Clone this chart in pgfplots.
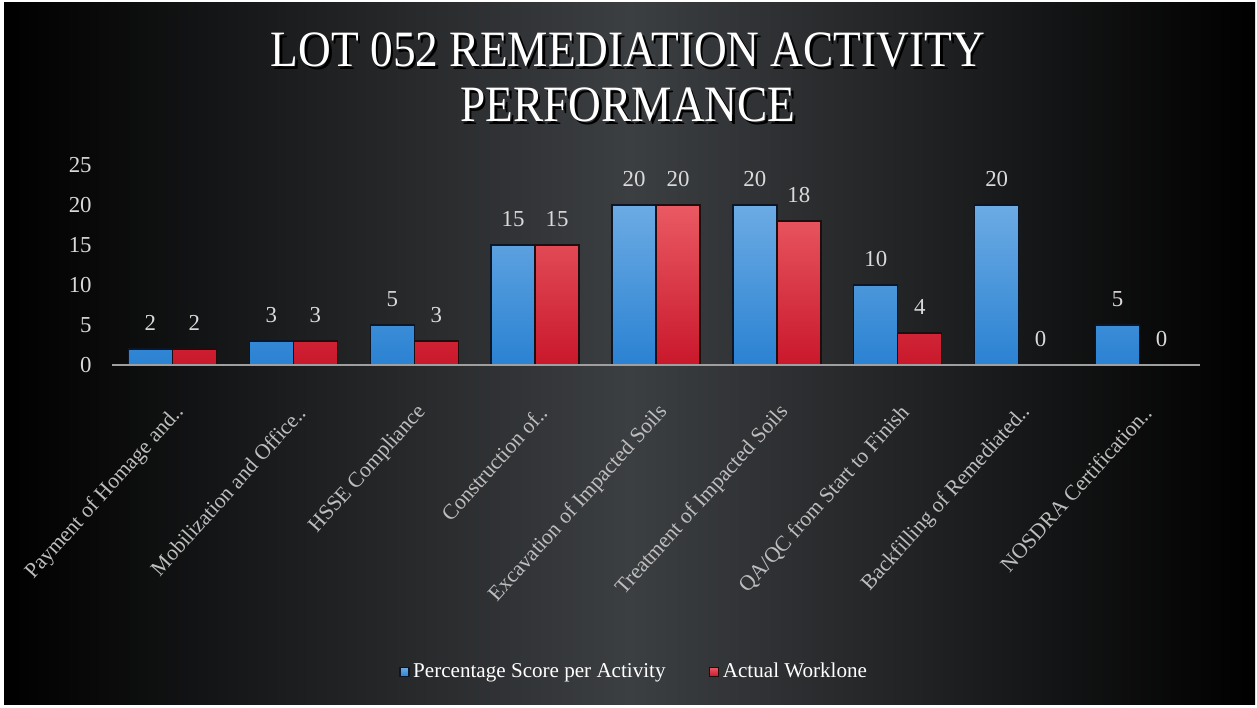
\documentclass[border=0pt]{standalone}
\usepackage{fontspec}
\setmainfont{Liberation Serif}
\newfontfamily\titlefont[FakeStretch=0.89]{Liberation Serif}
\usepackage{pgfplots}
\pgfplotsset{compat=1.18}
\definecolor{bgmid}{HTML}{3C3F42}
\definecolor{bluetop}{HTML}{6CABE4}
\definecolor{bluebot}{HTML}{2A82D2}
\definecolor{redtop}{HTML}{EA5A63}
\definecolor{redbot}{HTML}{C9182B}
\definecolor{ticktext}{HTML}{DADADA}
\definecolor{cattext}{HTML}{BEBEBE}
\begin{document}
\begin{tikzpicture}[x=0.2mm,y=0.2mm]
\useasboundingbox (0,0) rectangle (1257,708);
\fill[white] (0,0) rectangle (1257,708);
\shade[left color=black, right color=black, middle color=bgmid] (4,3) rectangle (1255,705);
\node[anchor=base, font=\titlefont\fontsize{29}{34}\selectfont, text=black] at (630.5,638.5) {LOT 052 REMEDIATION ACTIVITY};
\node[anchor=base, font=\titlefont\fontsize{29}{34}\selectfont, text=white] at (628,641) {LOT 052 REMEDIATION ACTIVITY};
\node[anchor=base, font=\titlefont\fontsize{29}{34}\selectfont, text=black] at (630.5,583.5) {PERFORMANCE};
\node[anchor=base, font=\titlefont\fontsize{29}{34}\selectfont, text=white] at (628,586) {PERFORMANCE};
\begin{axis}[
  at={(22.4mm,68.6mm)}, anchor=south west,
  scale only axis, width=217.6mm, height=40mm,
  xmin=-0.5, xmax=8.5, ymin=0, ymax=25,
  clip=false,
  ybar=0pt, bar width=8.8mm,
  axis line style={draw=none},
  tick style={draw=none},
  xtick={0,...,8},
  xticklabels={Payment of Homage and..,Mobilization and Office..,HSSE Compliance,Construction of..,Excavation of Impacted Soils,Treatment of Impacted Soils,QA/QC from Start to Finish,Backfilling of Remediated..,NOSDRA Certification..},
  xticklabel style={xshift=2.4mm, yshift=-6.4mm, rotate=48, anchor=east, font=\fontsize{12.3}{14}\selectfont, text=cattext},
  ytick={0,5,...,25},
  yticklabel style={anchor=east, inner sep=0pt, xshift=-4mm, font=\fontsize{13}{15}\selectfont, text=ticktext},
  /pgf/number format/assume math mode=true,
  nodes near coords,
  every node near coord/.append style={font=\fontsize{13}{15}\selectfont, text=ticktext, yshift=2.4mm},
  legend style={at={(0.4807,-1.535)}, anchor=center, draw=none, fill=none, legend columns=2, font=\fontsize{12}{14}\selectfont, text=white, /tikz/every even column/.append style={column sep=8mm}},
  legend image code/.code={\fill[#1] (0,-0.9mm) rectangle (1.8mm,0.9mm);},
]
\addplot[draw={rgb,255:red,12;green,22;blue,38}, line width=0.25mm, top color=bluetop, bottom color=bluebot] coordinates {(0,2) (1,3) (2,5) (3,15) (4,20) (5,20) (6,10) (7,20) (8,5)};
\addplot[draw={rgb,255:red,30;green,14;blue,16}, line width=0.25mm, top color=redtop, bottom color=redbot] coordinates {(0,2) (1,3) (2,3) (3,15) (4,20) (5,18) (6,4) (7,0) (8,0)};
\legend{Percentage Score per Activity, Actual Worklone}
\draw[draw=gray!75, line width=0.5mm] (rel axis cs:0,0) -- (rel axis cs:1,0);
\end{axis}
\end{tikzpicture}
\end{document}
